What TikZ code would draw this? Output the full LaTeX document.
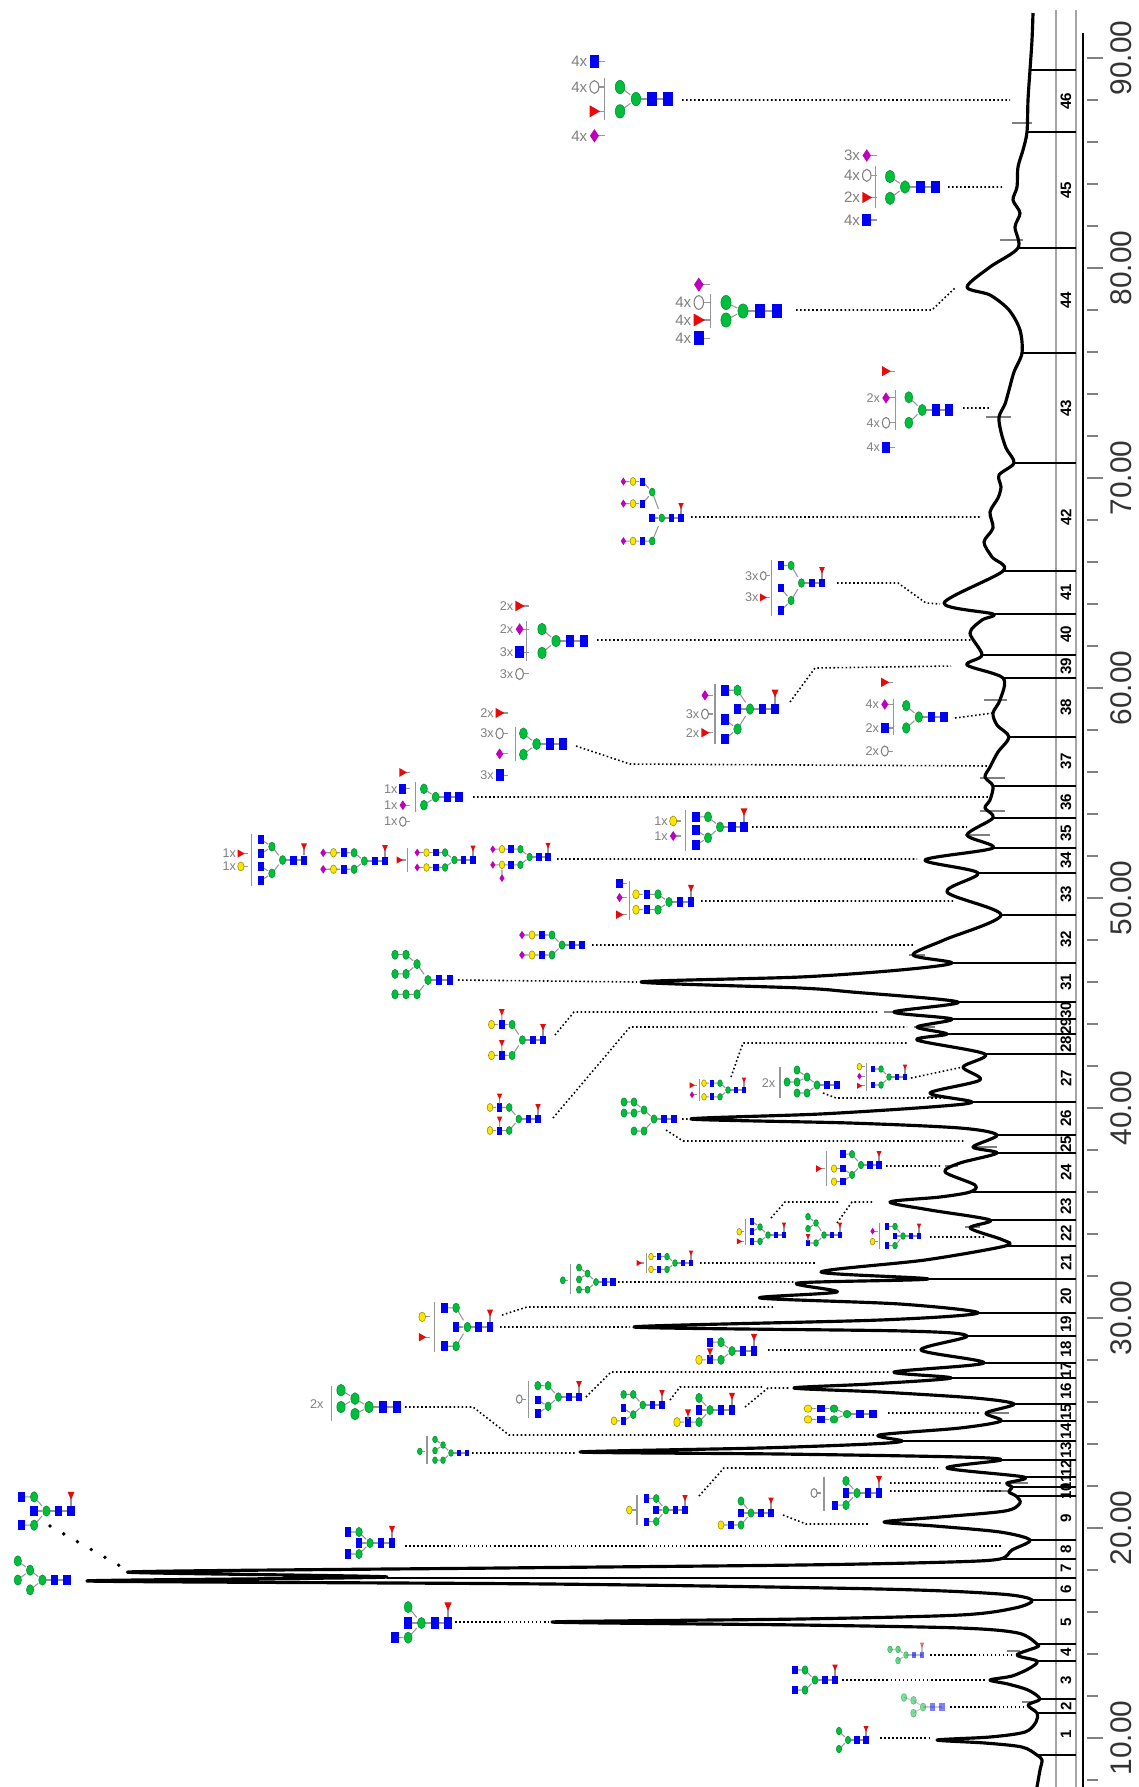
\documentclass[tikz,border=0pt]{standalone}
\usepackage{fontspec}
\setmainfont{Liberation Sans}
\usetikzlibrary{calc}
\definecolor{gnblue}{RGB}{0,0,245}
\definecolor{mangreen}{RGB}{0,190,60}
\definecolor{galyellow}{RGB}{250,230,0}
\definecolor{fucred}{RGB}{230,10,10}
\definecolor{siapurple}{RGB}{190,0,190}
\definecolor{bondgray}{RGB}{150,150,150}
\tikzset{
  bond/.style={draw=bondgray,line width=0.3pt},
  lead/.style={line width=0.45pt,dash pattern=on 0.45pt off 0.7pt},
  bigdots/.style={line width=1.1pt,dash pattern=on 0pt off 4.5pt,line cap=round},
  sep/.style={line width=0.45pt},
  intmark/.style={gray,line width=0.5pt},
  lbl/.style={text=gray,font=\fontsize{3.6}{3.6}\selectfont,inner sep=0pt,anchor=east},
}
\newcommand{\glycg}{\fill[gnblue] (-.3,-.42) rectangle (.3,.42);}
\newcommand{\glycm}{\filldraw[fill=mangreen,draw=mangreen!75!black,line width=.15pt] (0,0) ellipse (.3 and .42);}
\newcommand{\glyca}{\filldraw[fill=galyellow,draw=galyellow!60!black,line width=.15pt] (0,0) ellipse (.3 and .42);}
\newcommand{\glycf}{\fill[fucred] (-.28,-.3) -- (.28,-.3) -- (0,.32) -- cycle;}
\newcommand{\glycr}{\fill[fucred] (-.3,-.38) -- (-.3,.38) -- (.36,0) -- cycle;}
\newcommand{\glycs}{\fill[siapurple] (-.28,0) -- (0,-.42) -- (.28,0) -- (0,.42) -- cycle;}
\newcommand{\glycw}{\filldraw[fill=white,draw=gray,line width=.3pt] (0,0) ellipse (.28 and .4);}
\newcommand{\res}[3]{\begin{scope}[shift={(#1,#2)}]#3\end{scope}}
\newcommand{\lnk}[5]{\draw[bond] ($(#1,#2)!.35!(#3,#4)$) -- (#3,#4);\res{#3}{#4}{#5}}
\newcommand{\arm}[3]{\foreach \rr [count=\nn] in {#3}{\lnk{#1-\nn+1}{#2}{#1-\nn}{#2}{\csname glyc\rr\endcsname}}}
\newcommand{\core}[1]{\draw[bond] (0,0) -- (-2,0);\res{0}{0}{\glycg}\res{-1}{0}{\glycg}\res{-2}{0}{\glycm}\ifnum#1=1 \lnk{0}{0}{0}{-1.25}{\glycf}\fi}
\newcommand{\mans}[2]{\lnk{-2}{0}{-3}{#1}{\glycm}\lnk{-2}{0}{-3}{#2}{\glycm}}
\newcommand{\bis}{\lnk{-2}{0}{-3}{0}{\glycg}}
\newcommand{\mfive}[4]{\mans{#1}{#4}\lnk{-3}{#1}{-4}{#2}{\glycm}\lnk{-3}{#1}{-4}{#3}{\glycm}}
\newcommand{\brk}[3]{\draw[bond] (#1,#2) -- (#1,#3);}
\newcommand{\amb}[4]{\draw[bond] (#1,#2) -- (#1+.65,#2);\res{#1}{#2}{#3}\node[lbl] at (#1-.4,#2) {#4};}

\begin{document}
\begin{tikzpicture}[x=0.1mm,y=-0.1mm]
    \useasboundingbox (0,0) rectangle (1138,1787);
    \fill[white] (0,0) rectangle (1138,1787);

    % axis and peak strip
    \draw[gray!70,line width=.6pt] (1056,10) -- (1056,1787) (1076,10) -- (1076,1787);
    \draw[line width=.6pt] (1083,33) -- (1083,1787);
    \foreach \t in {8,12,...,88}{
        \draw[gray,line width=.4pt] (1087,{1738-21*(\t-10)}) -- (1098,{1738-21*(\t-10)});
        \draw[gray,line width=.4pt] (1087,{1738-21*(\t-8)}) -- (1098,{1738-21*(\t-8)});
    }
    \foreach \t in {10,20,...,90}{
        \draw[gray,line width=.4pt] (1087,{1738-21*(\t-10)}) -- (1103,{1738-21*(\t-10)});
        \node[rotate=90,font=\fontsize{8.5}{8.5}\selectfont,text=black!80] at (1121,{1738-21*(\t-10)}) {\t.00};
    }
    \foreach \x/\y in {1037/1755,1037/1713,1040/1699,1037/1661,1037/1644,1032/1600,387/1578,1000/1559,1030/1540,
        1016/1496,1012/1487,1024/1477,1001/1460,902/1441,1001/1421,1014/1404,951/1378,984/1363,967/1336,978/1313,
        928/1279,1005/1246,990/1220,970/1192,997/1153,997/1135,972/1102,985/1054,947/1034,952/1019,958/1002,
        952/963,1001/915,978/873,993/848,993/818,993/786,1009/737,1003/678,982/655,993/614,1003/571,1014/463,
        1022/353,1018/248,1027/132,1030/70}{
        \draw[sep] (\x,\y) -- (1076,\y);
    }
    \foreach \a/\b [count=\pk] in {1755/1713,1713/1699,1699/1661,1661/1644,1644/1600,1600/1578,1578/1559,1559/1540,
        1540/1496,1496/1487,1487/1477,1477/1460,1460/1441,1441/1421,1421/1404,1404/1378,1378/1363,1363/1336,
        1336/1313,1313/1279,1279/1246,1246/1220,1220/1192,1192/1153,1153/1135,1135/1102,1102/1054,1054/1034,
        1034/1019,1019/1002,1002/963,963/915,915/873,873/848,848/818,818/786,786/737,737/678,678/655,655/614,
        614/571,571/463,463/353,353/248,248/132,132/70}{
        \node[rotate=90,font=\bfseries\fontsize{4.3}{4.3}\selectfont,inner sep=0pt] at (1066,{(\a+\b)/2}) {\pk};
    }

    % chromatogram
    \foreach \a/\b/\y in {1022/1037/1702,1007/1020/1651,986/1009/1491,1005/1028/1483,986/1009/1413,
        965/980/1227,945/958/1166,972/997/1147,928/943/1097,914/935/1027,884/900/1012,909/925/955,
        965/990/835,980/1005/811,980/1005/778,984/1007/700,986/1011/417,1000/1023/240,1012/1032/123}{
        \draw[intmark] (\a,\y) -- (\b,\y);
    }
    \draw[line width=.9pt,line join=round] plot[smooth,tension=.5] coordinates {
        (1037,1787) (1040,1770) (1042,1760) (1037,1755)
        (1022,1747) (985,1743) (937,1740) (990,1737) (1025,1732) (1036,1722) (1037,1713)
        (1028,1705) (1040,1699)
        (1028,1690) (1008,1684) (990,1680) (1012,1676) (1030,1668) (1037,1661)
        (1017,1655) (1037,1647) (1037,1644)
        (1018,1633) (960,1628) (800,1625) (552,1622) (800,1619) (960,1615) (1015,1608) (1032,1600)
        (1000,1594) (880,1589) (550,1584) (88,1581) (387,1577) (128,1572)
        (500,1568) (800,1565) (950,1562) (1000,1559)
        (1012,1550) (1030,1540)
        (1000,1532) (935,1526) (884,1522) (940,1517) (1005,1511) (1020,1503) (1016,1496)
        (1009,1492) (1012,1487) (1007,1483) (1024,1477)
        (947,1468) (1001,1460)
        (960,1457) (780,1454) (580,1452) (760,1448) (870,1444) (902,1441)
        (879,1435) (960,1428) (1001,1421)
        (986,1413) (1014,1404)
        (975,1398) (880,1392) (794,1388) (870,1384) (951,1378)
        (894,1372) (984,1363)
        (921,1350) (967,1336)
        (905,1331) (634,1327) (880,1320) (978,1313)
        (900,1304) (760,1298) (837,1292) (798,1283) (928,1279)
        (821,1272) (925,1260) (1005,1246)
        (1003,1240) (970,1228) (990,1220)
        (930,1210) (890,1202) (940,1197) (970,1192)
        (975,1185) (945,1172) (960,1163) (997,1153)
        (973,1147) (997,1135)
        (960,1128) (850,1123) (691,1119) (820,1114) (930,1107) (972,1102)
        (930,1093) (980,1080) (963,1067) (985,1054)
        (917,1040) (947,1034)
        (917,1027) (952,1019)
        (894,1012) (958,1002)
        (852,992) (800,988) (641,982) (800,977) (900,970) (952,963)
        (913,955) (944,940) (1001,915)
        (947,892) (978,873)
        (925,860) (993,848)
        (967,835) (993,818)
        (985,808) (990,800) (993,786)
        (985,777) (990,767) (998,752) (1009,737)
        (997,725) (993,713) (1000,700) (1003,678)
        (967,665) (982,655)
        (970,633) (982,620) (993,614)
        (944,603) (1003,571)
        (992,557) (984,542) (993,528) (990,512) (998,498) (1001,487) (999,475) (1014,463)
        (1006,448) (1001,432) (999,417) (1005,404) (1009,390) (1014,372) (1022,353)
        (1020,330) (1009,310) (990,295) (967,287) (990,267) (1018,248)
        (1015,227) (1020,213) (1013,200) (1017,187) (1018,167) (1023,150) (1027,132)
        (1028,100) (1030,70) (1032,40) (1033,13)};

    % leaders
    \draw[lead] (880,1738) -- (932,1738) (950,1707) -- (1026,1707) (842,1680) -- (986,1680)
        (930,1655) -- (1013,1655) (455,1622) -- (548,1622) (405,1546) -- (1002,1546);
    \draw[bigdots] (50,1526) -- (122,1567);
    \draw[lead] (783,1515) -- (806,1524) -- (869,1524) (890,1483) -- (1001,1483) (890,1491) -- (1001,1491)
        (699,1496) -- (724,1468) -- (938,1468) (472,1453) -- (575,1453)
        (405,1407) -- (473,1407) -- (509,1435) -- (875,1435) (888,1413) -- (980,1413)
        (670,1400) -- (680,1387) -- (764,1387) (745,1407) -- (768,1388) -- (790,1388)
        (586,1397) -- (611,1372) -- (890,1372) (768,1350) -- (915,1350)
        (500,1327) -- (630,1327) (502,1315) -- (527,1307) -- (775,1307)
        (618,1282) -- (796,1282) (700,1263) -- (817,1263);
    \draw[lead] (771,1218) -- (785,1202) -- (840,1202) (837,1223) -- (852,1202) -- (873,1202)
        (930,1237) -- (984,1237) (886,1166) -- (940,1166)
        (666,1130) -- (683,1141) -- (965,1141) (682,1119) -- (690,1119)
        (823,1093) -- (836,1098) -- (948,1098) (911,1078) -- (963,1067)
        (731,1077) -- (743,1043) -- (907,1043) (553,1118) -- (630,1027) -- (907,1027)
        (555,1035) -- (574,1012) -- (877,1012) (458,980) -- (637,982);
    \draw[lead] (592,945) -- (915,945) (701,901) -- (955,901) (557,859) -- (917,859)
        (752,827) -- (967,827) (473,797) -- (990,797) (576,746) -- (630,764) -- (990,766)
        (790,702) -- (815,668) -- (951,666) (955,718) -- (993,713) (597,640) -- (972,640)
        (837,583) -- (898,583) -- (926,603) -- (940,604) (691,517) -- (980,517)
        (963,408) -- (990,408) (796,310) -- (932,310) -- (955,288)
        (948,187) -- (1003,187) (682,100) -- (1010,100);

    % glycans
    \begin{scope}[shift={(866,1740)},scale=9]\mans{-1}{1}\core{1}\end{scope}
    \begin{scope}[shift={(942,1707)},scale=9.5,opacity=.5]
        \mans{-.7}{.65}\lnk{-3}{-.7}{-4}{-1}{\glycm}\core{0}\end{scope}
    \begin{scope}[shift={(835,1680)},scale=10]\mans{-1}{1}\core{1}\arm{-3}{-1}{g}\arm{-3}{1}{g}\end{scope}
    \begin{scope}[shift={(922,1655)},scale=8,opacity=.6]\mans{-.7}{.7}\core{1}\arm{-3}{-.7}{m}\end{scope}
    \begin{scope}[shift={(448,1623)},scale=13.3]\bis\mans{-1.2}{1.1}\core{1}\arm{-3}{1.1}{g}\end{scope}
    \begin{scope}[shift={(67,1580)},scale=12.3]\mfive{-.8}{-1.55}{0}{.8}\core{0}\end{scope}
    \begin{scope}[shift={(71,1511)},scale=12.3]\bis\mans{-1.15}{1.15}\core{1}\arm{-3}{-1.15}{g}\arm{-3}{1.15}{g}\end{scope}
    \begin{scope}[shift={(392,1543)},scale=11]\bis\mans{-1}{1}\core{1}\arm{-3}{-1}{g}\arm{-3}{1}{g}\end{scope}
    \begin{scope}[shift={(771,1513)},scale=10]\bis\mans{-1.2}{1.2}\core{1}\arm{-3}{1.2}{g,a}\end{scope}
    \begin{scope}[shift={(879,1493)},scale=11]
        \bis\mans{-1.1}{1.1}\core{1}\arm{-3}{1.1}{g}\brk{-5}{-1.5}{1.6}\amb{-5.9}{0}{\glycw}{}\end{scope}
    \begin{scope}[shift={(685,1510)},scale=9.6]
        \bis\mans{-1.2}{1.2}\core{1}\arm{-3}{-1.2}{g}\arm{-3}{1.2}{g}\brk{-5}{-1.6}{1.6}\amb{-5.8}{0}{\glyca}{}\end{scope}
    \begin{scope}[shift={(467,1453)},scale=8]
        \mfive{-1}{-1.7}{-.3}{.9}\arm{-3}{.9}{m}\core{0}\brk{-5}{-2.1}{1.4}\amb{-5.9}{-.2}{\glycm}{}\end{scope}
    \begin{scope}[shift={(397,1407)},scale=14]
        \mfive{-.6}{-1.2}{0}{.5}\core{0}\brk{-4.7}{-1.5}{1}\node[lbl] at (-5.2,-.2) {2x};\end{scope}
    \begin{scope}[shift={(873,1414)},xscale=13,yscale=9]\mans{-.6}{.6}\core{0}\arm{-3}{-.6}{g,a}\arm{-3}{.6}{g,a}\end{scope}
    \begin{scope}[shift={(662,1405)},scale=9.6]
        \mans{-1.1}{1}\core{1}\arm{-3}{-1.1}{m}\lnk{-3}{1}{-4}{.35}{\glycg}\lnk{-3}{1}{-4}{1.65}{\glycg}\arm{-4}{1.65}{a}\end{scope}
    \begin{scope}[shift={(732,1410)},scale=11]
        \bis\mans{-1.1}{1.1}\core{1}\arm{-3}{1.1}{g,a}\lnk{-4}{1.1}{-4}{.25}{\glycf}\end{scope}
    \begin{scope}[shift={(579,1397)},scale=10.3]
        \mans{-1.1}{.9}\core{1}\arm{-3}{-1.1}{m}\lnk{-3}{.9}{-4}{.3}{\glycg}\lnk{-3}{.9}{-4}{1.6}{\glycg}
        \brk{-4.9}{-1.6}{2}\amb{-5.8}{.2}{\glycw}{}\end{scope}
    \begin{scope}[shift={(754,1351)},scale=11]
        \mans{-.8}{.8}\core{1}\arm{-3}{-.8}{g}\arm{-3}{.8}{g,a}\lnk{-4}{.8}{-4}{.05}{\glycf}\end{scope}
    \begin{scope}[shift={(490,1327)},scale=11.3]
        \bis\mans{-1.7}{1.7}\core{1}\arm{-3}{-1.7}{g}\arm{-3}{1.7}{g}\brk{-4.9}{-2.2}{2.2}
        \amb{-6}{-.9}{\glyca}{}\amb{-6}{.9}{\glycr}{}\end{scope}
    \begin{scope}[shift={(613,1282)},scale=8.5]
        \mfive{-1}{-1.7}{-.3}{.9}\arm{-3}{.9}{m}\core{0}\brk{-5}{-2.1}{1.4}\amb{-5.9}{-.2}{\glycm}{}\end{scope}
    \begin{scope}[shift={(691,1263)},scale=8]
        \mans{-.8}{.8}\core{1}\arm{-3}{-.8}{g,a}\arm{-3}{.8}{g,a}\brk{-5.6}{-1.2}{1.2}\amb{-6.5}{0}{\glycr}{}\end{scope}
    \begin{scope}[shift={(784,1235)},scale=8]
        \mans{-1}{.8}\core{1}\lnk{-3}{-1}{-4}{-1.7}{\glycg}\lnk{-3}{-1}{-4}{-.4}{\glycg}\arm{-3}{.8}{g}
        \brk{-4.8}{-2}{1.3}\amb{-5.6}{-.4}{\glyca}{}\amb{-5.6}{.8}{\glycr}{}\end{scope}
    \begin{scope}[shift={(840,1235)},scale=8]
        \mfive{-1.5}{-2.3}{-.8}{1}\core{1}\arm{-3}{1}{g}\lnk{-4}{1}{-4}{.2}{\glycf}\end{scope}
    \begin{scope}[shift={(919,1236)},scale=8]
        \bis\mans{-1.2}{1.2}\core{1}\arm{-3}{-1.2}{g}\arm{-3}{1.2}{g}\brk{-4.9}{-1.6}{1.6}
        \amb{-5.8}{-.6}{\glycs}{}\amb{-5.8}{.7}{\glyca}{}\end{scope}
    \begin{scope}[shift={(879,1165)},scale=9]
        \mans{-1.2}{1.1}\core{1}\arm{-3}{-1.2}{g}\lnk{-3}{1.1}{-4}{.4}{\glycg}\lnk{-3}{1.1}{-4}{1.85}{\glycg}
        \arm{-4}{.4}{a}\arm{-4}{1.85}{a}\brk{-5.8}{-1.6}{2.3}\amb{-6.7}{.4}{\glycr}{}\end{scope}
    \begin{scope}[shift={(674,1119)},scale=10]
        \mans{-.9}{1.2}\core{0}\lnk{-3}{-.9}{-4}{-1.7}{\glycm}\lnk{-3}{-.9}{-4}{-.6}{\glycm}
        \arm{-4}{-1.7}{m}\arm{-4}{-.6}{m}\arm{-3}{1.2}{m}\end{scope}
    \begin{scope}[shift={(837,1085)},scale=10]
        \mfive{-.8}{-1.5}{-.3}{.8}\arm{-4}{-.3}{m}\arm{-3}{.8}{m}\core{0}\brk{-5.7}{-1.8}{1.3}
        \node[lbl] at (-6.1,-.2) {2x};\end{scope}
    \begin{scope}[shift={(905,1077)},scale=8]
        \mans{-1}{1}\core{1}\arm{-3}{-1}{g}\arm{-3}{1}{g}\brk{-4.8}{-1.8}{1.8}
        \amb{-5.7}{-1.3}{\glyca}{}\amb{-5.7}{-.1}{\glycs}{}\amb{-5.7}{1.1}{\glycr}{}\end{scope}
    \begin{scope}[shift={(744,1090)},scale=8]
        \mans{-.85}{.85}\core{1}\arm{-3}{-.85}{g,a}\arm{-3}{.85}{g,a}\brk{-5.6}{-1.4}{1.4}
        \amb{-6.5}{-.6}{\glycr}{}\amb{-6.5}{.6}{\glycs}{}\end{scope}
    \begin{scope}[shift={(538,1119)},scale=9.6]
        \mans{-1.2}{1.2}\core{1}\arm{-3}{-1.2}{g,a}\arm{-3}{1.2}{g,a}
        \lnk{-4}{-1.2}{-4}{-2.35}{\glycf}\lnk{-4}{1.2}{-4}{.05}{\glycf}\end{scope}
    \begin{scope}[shift={(543,1040)},scale=10.3]
        \mans{-1.5}{1.5}\core{1}\arm{-3}{-1.5}{g,a}\arm{-3}{1.5}{g,a}
        \lnk{-4}{-1.5}{-4}{-2.7}{\glycf}\lnk{-4}{1.5}{-4}{.3}{\glycf}\end{scope}
    \begin{scope}[shift={(450,980)},scale=11]
        \mans{-1.45}{1.3}\core{0}\lnk{-3}{-1.45}{-4}{-2.3}{\glycm}\lnk{-3}{-1.45}{-4}{-.55}{\glycm}
        \arm{-4}{-2.3}{m}\arm{-4}{-.55}{m}\arm{-3}{1.3}{m,m}\end{scope}
    \begin{scope}[shift={(582,945)},scale=10]\mans{-1}{1}\core{0}\arm{-3}{-1}{g,a,s}\arm{-3}{1}{g,a,s}\end{scope}
    \begin{scope}[shift={(691,902)},scale=11]
        \mans{-.7}{.7}\core{1}\arm{-3}{-.7}{g,a}\arm{-3}{.7}{g,a}\brk{-5.6}{-1.9}{1.6}
        \amb{-6.5}{-1.65}{\glycg}{}\amb{-6.5}{-.4}{\glycs}{}\amb{-6.5}{1.15}{\glycr}{}\end{scope}
    \begin{scope}[shift={(548,857)},scale=9.2]
        \mans{-.85}{.85}\core{1}\arm{-3}{-.85}{g,a,s}\arm{-3}{.85}{g,a,s}\lnk{-5}{.85}{-5}{2.3}{\glycs}\end{scope}
    \begin{scope}[shift={(304,860)},scale=10.7]
        \mans{-1.25}{1.25}\core{1}\lnk{-3}{-1.25}{-4}{-1.9}{\glycg}\lnk{-3}{-1.25}{-4}{-.6}{\glycg}
        \lnk{-3}{1.25}{-4}{.6}{\glycg}\lnk{-3}{1.25}{-4}{1.9}{\glycg}\brk{-4.9}{-2.4}{2.4}
        \amb{-5.9}{-.6}{\glycr}{1x}\amb{-5.9}{.6}{\glyca}{1x}\end{scope}
    \begin{scope}[shift={(385,861)},scale=10.3]\mans{-.8}{.8}\core{1}\arm{-3}{-.8}{g,a,s}\arm{-3}{.8}{g,a,s}\end{scope}
    \begin{scope}[shift={(473,860)},scale=9.3]
        \mans{-.8}{.8}\core{1}\arm{-3}{-.8}{g,a,s}\arm{-3}{.8}{g,a,s}\brk{-7}{-1.3}{1.3}\amb{-7.9}{0}{\glycr}{}\end{scope}
    \begin{scope}[shift={(744,827)},scale=12]
        \mans{-.85}{.9}\core{1}\arm{-3}{-.85}{g}\lnk{-3}{.9}{-4}{.25}{\glycg}\lnk{-3}{.9}{-4}{1.5}{\glycg}
        \brk{-4.9}{-1.4}{2}\amb{-5.9}{-.5}{\glyca}{1x}\amb{-5.9}{.75}{\glycs}{1x}\end{scope}
    \begin{scope}[shift={(459,797)},scale=11.7]
        \mans{-.7}{.7}\core{0}\brk{-3.7}{-1.3}{1.3}\amb{-4.8}{-2.1}{\glycr}{}\amb{-4.8}{-.7}{\glycg}{1x}
        \amb{-4.8}{.7}{\glycs}{1x}\amb{-4.8}{2.1}{\glycw}{1x}\end{scope}
    \begin{scope}[shift={(563,744)},scale=13.2]
        \mans{-.8}{.8}\core{0}\brk{-3.6}{-1.3}{1.3}\amb{-4.8}{-2.35}{\glycr}{2x}\amb{-4.8}{-.8}{\glycw}{3x}
        \amb{-4.8}{.75}{\glycs}{}\amb{-4.8}{2.35}{\glycg}{3x}\end{scope}
    \begin{scope}[shift={(775,709)},scale=12.5]
        \bis\mans{-1.5}{1.6}\core{1}\arm{-3}{-1.5}{g}\lnk{-3}{1.6}{-4}{.85}{\glycg}\lnk{-3}{1.6}{-4}{2.4}{\glycg}
        \brk{-4.8}{-2}{2.8}\amb{-5.6}{-1.1}{\glycs}{}\amb{-5.6}{.4}{\glycw}{3x}\amb{-5.6}{1.9}{\glycr}{2x}\end{scope}
    \begin{scope}[shift={(944,717)},scale=12.6]
        \mans{-.9}{.87}\core{0}\brk{-4}{-1.4}{1.4}\amb{-4.7}{-2.75}{\glycr}{}\amb{-4.7}{-1}{\glycs}{4x}
        \amb{-4.7}{.87}{\glycg}{2x}\amb{-4.7}{2.7}{\glycw}{2x}\end{scope}
    \begin{scope}[shift={(584,641)},scale=14]
        \mans{-.85}{.85}\core{0}\brk{-4.1}{-1.4}{1.4}\amb{-4.6}{-2.5}{\glycr}{2x}\amb{-4.6}{-.85}{\glycs}{2x}
        \amb{-4.6}{.8}{\glycg}{3x}\amb{-4.6}{2.35}{\glycw}{3x}\end{scope}
    \begin{scope}[shift={(822,583)},scale=10.3]
        \mans{-1.7}{1.7}\core{1}\arm{-3}{-1.7}{g}\lnk{-3}{1.7}{-4}{.5}{\glycg}\lnk{-3}{1.7}{-4}{2.7}{\glycg}
        \brk{-4.9}{-2.2}{3.2}\amb{-5.7}{-.7}{\glycw}{3x}\amb{-5.7}{1.4}{\glycr}{3x}\end{scope}
    \begin{scope}[shift={(681,518)},scale=9.6]
        \bis\mans{-2.7}{2.4}\core{1}\lnk{-3}{-2.7}{-4}{-3.8}{\glycg}\lnk{-3}{-2.7}{-4}{-1.5}{\glycg}
        \arm{-4}{-3.8}{a,s}\arm{-4}{-1.5}{a,s}\arm{-3}{2.4}{g,a,s}\end{scope}
    \begin{scope}[shift={(949,410)},scale=13.4]
        \mans{-.95}{.95}\core{0}\brk{-4}{-1.5}{1.5}\amb{-4.7}{-2.9}{\glycr}{}\amb{-4.7}{-.9}{\glycs}{2x}
        \amb{-4.7}{.95}{\glycw}{4x}\amb{-4.7}{2.8}{\glycg}{4x}\end{scope}
    \begin{scope}[shift={(777,311)},scale=17,lbl/.append style={font=\fontsize{4.3}{4.3}\selectfont}]
        \mans{-.5}{.53}\core{0}\brk{-3.9}{-1}{1}\amb{-4.6}{-1.55}{\glycs}{}\amb{-4.6}{-.5}{\glycw}{4x}
        \amb{-4.6}{.53}{\glycr}{4x}\amb{-4.6}{1.6}{\glycg}{4x}\end{scope}
    \begin{scope}[shift={(935,187)},scale=15,lbl/.append style={font=\fontsize{4.3}{4.3}\selectfont}]
        \mans{-.7}{.75}\core{0}\brk{-3.95}{-1.4}{1.4}\amb{-4.55}{-2.1}{\glycs}{3x}\amb{-4.55}{-.78}{\glycw}{4x}
        \amb{-4.55}{.7}{\glycr}{2x}\amb{-4.55}{2.2}{\glycg}{4x}\end{scope}
    \begin{scope}[shift={(668,99)},scale=16,lbl/.append style={font=\fontsize{4.3}{4.3}\selectfont}]
        \mans{-.75}{.77}\core{0}\brk{-3.95}{-1.3}{1.3}\amb{-4.6}{-2.35}{\glycg}{4x}\amb{-4.6}{-.75}{\glycw}{4x}
        \amb{-4.6}{.77}{\glycr}{}\amb{-4.6}{2.3}{\glycs}{4x}\end{scope}
\end{tikzpicture}
\end{document}
